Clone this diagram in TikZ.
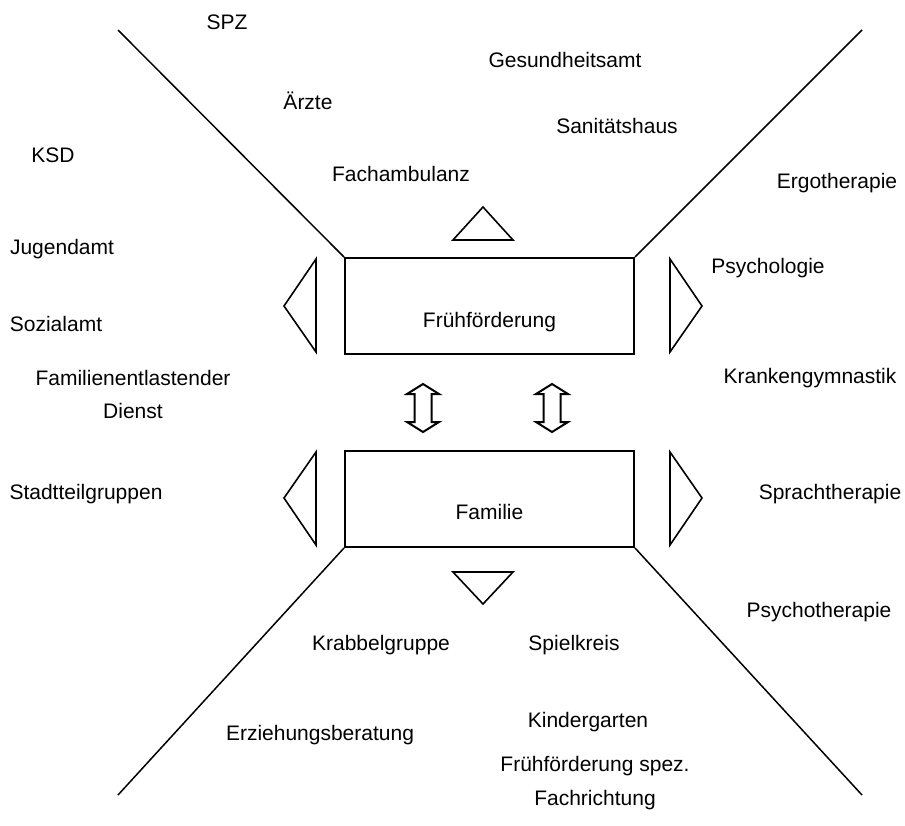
\documentclass[tikz,border=0pt]{standalone}
\usepackage{fontspec}
\setmainfont{Liberation Sans}
\usetikzlibrary{positioning}

\begin{document}
\begin{tikzpicture}[
        x=0.5pt, y=-0.5pt,
        box/.style={rectangle, draw, line width=1pt, minimum width=144.5pt, minimum height=48pt, inner sep=0pt},
        lbl/.style={font=\fontsize{10.5}{12.6}\selectfont, text height=7.5pt, text depth=0pt, inner sep=0pt, align=center},
        edge/.style={line width=0.75pt},
        marker/.style={line width=0.8pt, line join=miter},
        dblarrow/.style={line width=1pt, line join=miter}
    ]
        \useasboundingbox (0,0) rectangle (905,825);

        % Boxes
        \node[box] (fp) at (489.5,306) {};
        \node[box] (fam) at (489.5,499) {};
        \node[lbl] (fptext) at (489.5,320) {Frühförderung};
        \node[lbl] (famtext) at (489.5,512) {Familie};

        % Funnel lines
        \coordinate (tl) at (118,30);
        \coordinate (tr) at (862,30);
        \coordinate (bl) at (118,795);
        \coordinate (br) at (862,795);
        \draw[edge] (fp.north west) -- (tl);
        \draw[edge] (fp.north east) -- (tr);
        \draw[edge] (fam.south west) -- (bl);
        \draw[edge] (fam.south east) -- (br);

        % Triangles
        \draw[marker] (453,240) -- (483,207) -- (513,240) -- cycle;
        \draw[marker] (453,572) -- (483,604) -- (513,572) -- cycle;
        \draw[marker] (316,259) -- (284,306) -- (316,352) -- cycle;
        \draw[marker] (670,259) -- (702,306) -- (670,352) -- cycle;
        \draw[marker] (316,452) -- (284,498) -- (316,545) -- cycle;
        \draw[marker] (670,452) -- (702,498) -- (670,545) -- cycle;

        % Double arrows
        \draw[dblarrow] (423,384) -- (439,394) -- (431.5,394) -- (431.5,422) -- (439,422) -- (423,432)
            -- (407,422) -- (414.5,422) -- (414.5,394) -- (407,394) -- cycle;
        \draw[dblarrow] (552,384) -- (568,394) -- (560.5,394) -- (560.5,422) -- (568,422) -- (552,432)
            -- (536,422) -- (543.5,422) -- (543.5,394) -- (536,394) -- cycle;

        % Top
        \node[lbl] (spz) at (227,22) {SPZ};
        \node[lbl] (gesund) at (565,60) {Gesundheitsamt};
        \node[lbl] (aerzte) at (308,102) {Ärzte};
        \node[lbl] (sanitaet) at (617,126) {Sanitätshaus};
        \node[lbl] (fachamb) at (401,174) {Fachambulanz};

        % Left
        \node[lbl] (ksd) at (53,155) {KSD};
        \node[lbl] (jugend) at (62,247) {Jugendamt};
        \node[lbl] (sozial) at (56,324) {Sozialamt};
        \node[lbl] (fed) at (133,410.5) {Familienentlastender\\[3.9pt]Dienst};
        \node[lbl] (stadt) at (86,492) {Stadtteilgruppen};

        % Right
        \node[lbl] (ergo) at (837,181) {Ergotherapie};
        \node[lbl] (psychol) at (768,266) {Psychologie};
        \node[lbl] (kgym) at (810,376) {Krankengymnastik};
        \node[lbl] (sprach) at (830,492) {Sprachtherapie};
        \node[lbl] (psychoth) at (819,610) {Psychotherapie};

        % Bottom
        \node[lbl] (krabbel) at (381,643) {Krabbelgruppe};
        \node[lbl] (spiel) at (574,643) {Spielkreis};
        \node[lbl] (kiga) at (588,720) {Kindergarten};
        \node[lbl] (erz) at (320,733) {Erziehungsberatung};
        \node[lbl] (ffspez) at (595,798) {Frühförderung spez.\\[4.4pt]Fachrichtung};
    \end{tikzpicture}
\end{document}
